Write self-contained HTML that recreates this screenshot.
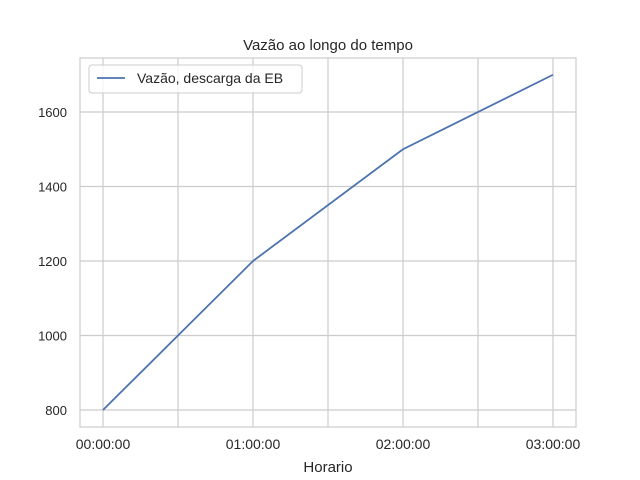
<!DOCTYPE html>
<html><head><meta charset="utf-8"><style>
body{margin:0;background:#fff;}
svg{display:block;font-family:"Liberation Sans","DejaVu Sans",sans-serif;}
</style></head><body>
<svg id="chart" width="640" height="480" viewBox="0 0 640 480">
<rect x="0" y="0" width="640" height="480" fill="#fff"/>
<text x="328" y="50" text-anchor="middle" font-size="15" fill="#262626">Vazão ao longo do tempo</text>
<g id="grid"></g>
<rect x="80" y="58" width="496" height="369" fill="none" stroke="#ccc" stroke-width="1.2"/>
<g id="ticks"></g>
<g id="series"></g>
<text x="328" y="472" text-anchor="middle" font-size="15" fill="#262626">Horario</text>
<g>
<rect x="89" y="65" width="213" height="28" rx="3" fill="#fff" fill-opacity="0.8" stroke="#ccc"/>
<line x1="97" y1="78" x2="125" y2="78" stroke="#4c72b0" stroke-width="1.8"/>
<text x="137" y="83" font-size="14" fill="#262626">Vazão, descarga da EB</text>
</g>
</svg>
<script>
const hours = [0, 1, 2, 3];
const flow = [800, 1200, 1500, 1700];
const xGridHours = [0, 0.5, 1, 1.5, 2, 2.5, 3];
const xTickHours = [0, 1, 2, 3];
const xTickLabels = ["00:00:00", "01:00:00", "02:00:00", "03:00:00"];
const yTicks = [800, 1000, 1200, 1400, 1600];

const NS = "http://www.w3.org/2000/svg";
function xS(h){ return 103 + h * 150; }
function yS(v){ return 410 - (v - 800) * 0.3725; }
function mk(tag, attrs, parent){ const e = document.createElementNS(NS, tag); for (const k in attrs) e.setAttribute(k, attrs[k]); parent.appendChild(e); return e; }
const grid = document.getElementById('grid');
const ticks = document.getElementById('ticks');
const series = document.getElementById('series');
xGridHours.forEach(h => {
  const l = mk('line', {x1: xS(h), x2: xS(h), y1: 58, y2: 427, stroke: '#ccc', 'stroke-width': 1.2}, grid);
  
  
});
yTicks.forEach(v => {
  const l = mk('line', {x1: 80, x2: 576, y1: yS(v), y2: yS(v), stroke: '#ccc', 'stroke-width': 1.2}, grid);
  
  
  const t = mk('text', {x: 67, y: yS(v) + 5, 'text-anchor': 'end', 'font-size': 13, fill: '#262626'}, ticks);
  t.textContent = v;
  
  
});
xTickHours.forEach((h, i) => {
  const t = mk('text', {x: xS(h), y: 449, 'text-anchor': 'middle', 'font-size': 14, fill: '#262626'}, ticks);
  t.textContent = xTickLabels[i];
  
  
});
const p = mk('polyline', {points: hours.map((h, i) => xS(h) + ',' + yS(flow[i])).join(' '), fill: 'none', stroke: '#4c72b0', 'stroke-width': 1.8}, series);


</script>
</body></html>
